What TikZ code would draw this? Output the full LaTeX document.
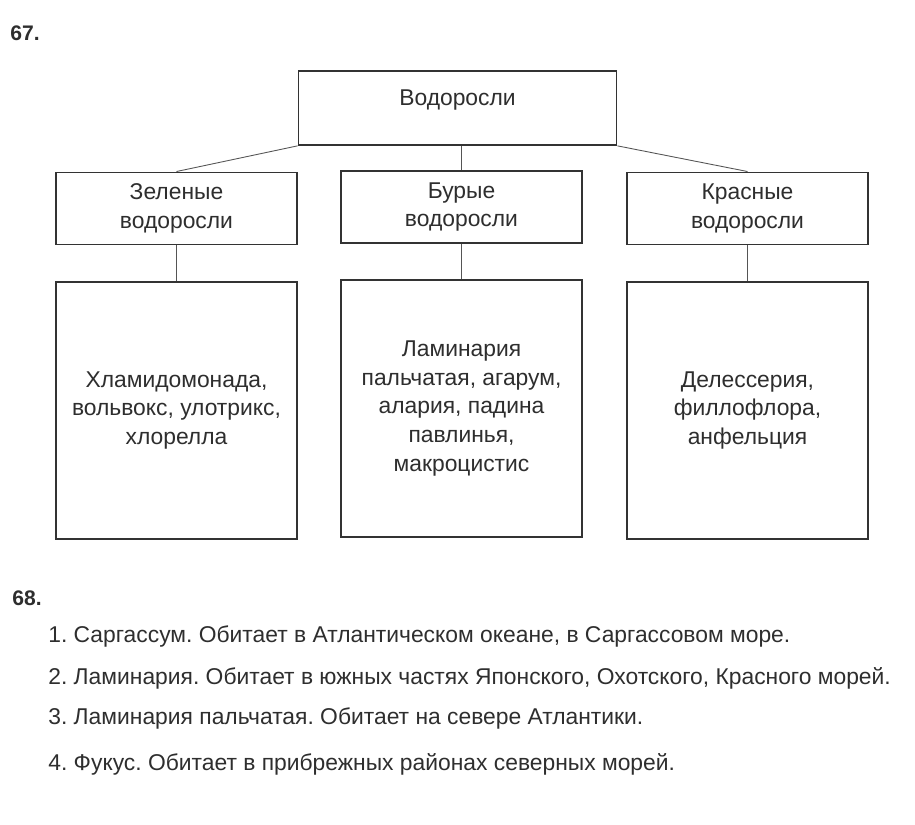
\documentclass[tikz,border=0pt]{standalone}
\usepackage{fontspec}
\setmainfont{Liberation Sans}
\usepackage{xcolor}
\definecolor{ink}{HTML}{2E2E2E}
\definecolor{frame}{HTML}{333333}
\definecolor{wire}{HTML}{555555}
\usetikzlibrary{positioning}
\tikzset{
  box/.style    ={draw=frame,line width=1.1pt,fill=white,align=center,
                  text=ink,font=\fontsize{13}{16.4}\selectfont,inner sep=2pt},
  sub/.style    ={box,minimum width=137pt,minimum height=41pt},
  leaf/.style   ={box,minimum width=137pt,minimum height=146pt},
  num/.style    ={font=\fontsize{12}{14}\selectfont\bfseries,text=ink,anchor=west,inner sep=0pt},
  item/.style   ={font=\fontsize{13}{15}\selectfont,text=ink,anchor=west,inner sep=0pt},
  link/.style   ={draw=wire,line width=0.5pt},
}

\begin{document}
\frenchspacing
\begin{tikzpicture}[x=0.02cm,y=-0.02cm]
\useasboundingbox (0,0) rectangle (915,824);
%======================= 67: tree ===============================
\node[num] (n67) at (10,33) {67.};
\node[box,minimum width=181pt,minimum height=42pt,text depth=12pt] (root) at (457.5,108) {Водоросли};
\node[sub] (green) at (176.5,208.5) {Зеленые\\водоросли};
\node[sub] (brown) at (461.5,207) {Бурые\\водоросли};
\node[sub] (red)   at (747.5,208.5) {Красные\\водоросли};
\node[leaf] (greenlist) at (176.5,410.5) {Хламидомонада,\\вольвокс, улотрикс,\\хлорелла};
\node[leaf] (brownlist) at (461.5,408.5) {Ламинария\\пальчатая, агарум,\\алария, падина\\павлинья,\\макроцистис};
\node[leaf] (redlist)   at (747.5,410.5) {Делессерия,\\филлофлора,\\анфельция};
\draw[link] (root.south west) -- (green.north);
\draw[link] (root.south east) -- (red.north);
\draw[link] (brown.north |- root.south) -- (brown.north);
\foreach \a/\b in {green/greenlist,brown/brownlist,red/redlist} \draw[link] (\a.south) -- (\b.north);
%======================= 68: list ===============================
\node[num] (n68) at (12,598) {68.};
\node[item] (l1) at (48,636) {1. Саргассум. Обитает в Атлантическом океане, в Саргассовом море.};
\node[item] (l2) at (48,678) {2. Ламинария. Обитает в южных частях Японского, Охотского, Красного морей.};
\node[item] (l3) at (48,718) {3. Ламинария пальчатая. Обитает на севере Атлантики.};
\node[item] (l4) at (48,764) {4. Фукус. Обитает в прибрежных районах северных морей.};
\end{tikzpicture}
\end{document}
